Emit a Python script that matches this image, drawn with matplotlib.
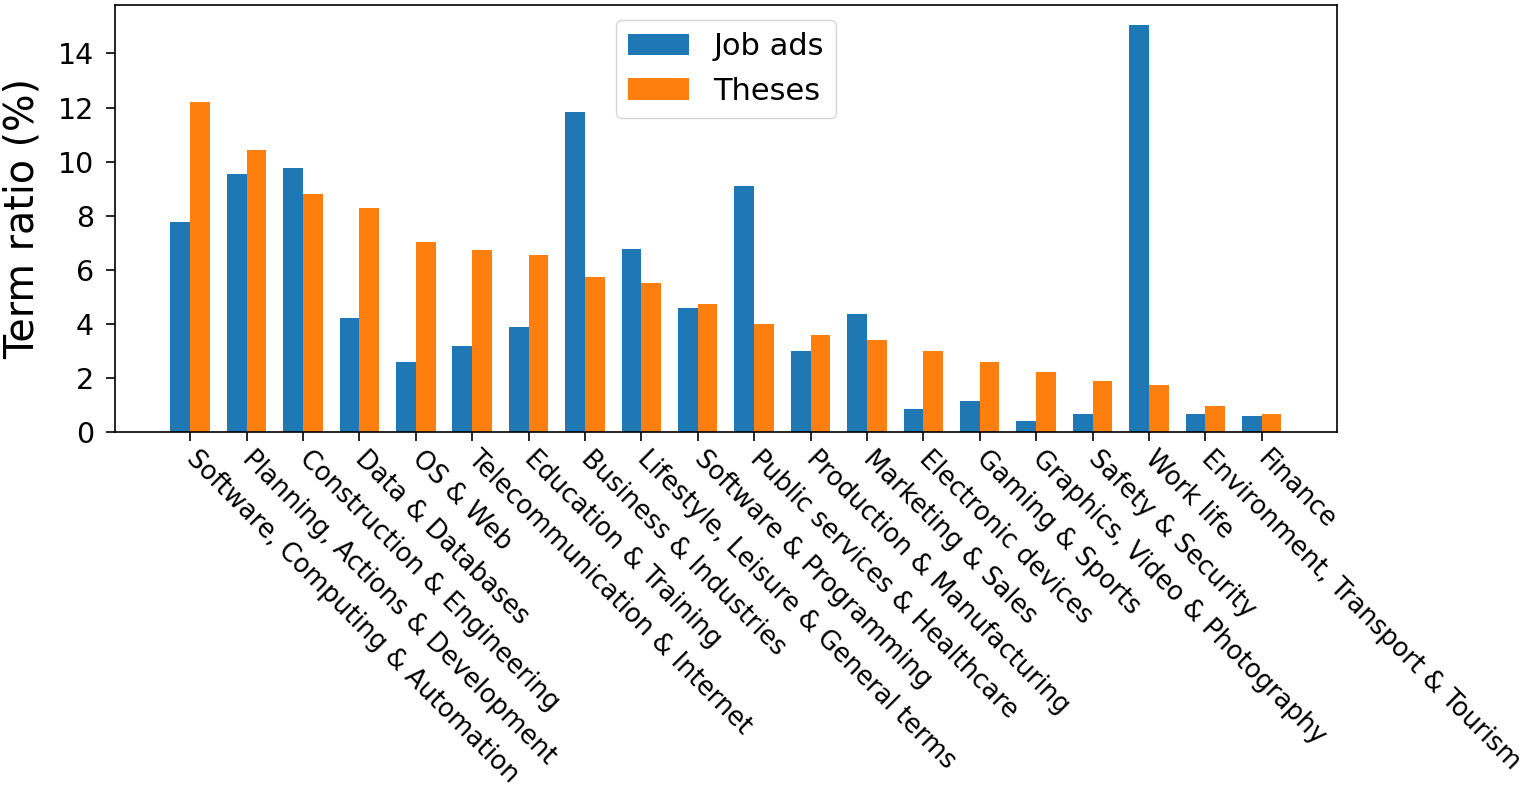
import matplotlib
matplotlib.use("Agg")
import matplotlib.pyplot as plt
import numpy as np

categories = [
    "Software, Computing & Automation",
    "Planning, Actions & Development",
    "Construction & Engineering",
    "Data & Databases",
    "OS & Web",
    "Telecommunication & Internet",
    "Education & Training",
    "Business & Industries",
    "Lifestyle, Leisure & General terms",
    "Software & Programming",
    "Public services & Healthcare",
    "Production & Manufacturing",
    "Marketing & Sales",
    "Electronic devices",
    "Gaming & Sports",
    "Graphics, Video & Photography",
    "Safety & Security",
    "Work life",
    "Environment, Transport & Tourism",
    "Finance",
]
job_ads = [7.77, 9.53, 9.75, 4.23, 2.58, 3.17, 3.89, 11.85, 6.77, 4.59,
           9.11, 3.01, 4.36, 0.86, 1.14, 0.41, 0.68, 15.04, 0.68, 0.59]
theses = [12.22, 10.44, 8.79, 8.28, 7.02, 6.73, 6.54, 5.74, 5.52, 4.74,
          3.99, 3.59, 3.41, 2.99, 2.58, 2.22, 1.90, 1.73, 0.95, 0.65]
yticks = [0, 2, 4, 6, 8, 10, 12, 14]

fig = plt.figure(figsize=(15.32, 7.92), dpi=100)
ax = fig.add_axes([0.075, 0.4545, 0.7977, 0.5392])

x = np.arange(len(categories))
w = 0.35
ax.bar(x - w / 2, job_ads, w, label="Job ads", color="#1f77b4")
ax.bar(x + w / 2, theses, w, label="Theses", color="#ff7f0e")

ax.set_xticks(x)
ax.set_xticklabels(categories, rotation=-45, ha="left", va="center",
                   rotation_mode="anchor", fontsize=18.5)
ax.set_yticks(yticks)
ax.tick_params(axis="y", labelsize=20.5, length=6.5, width=1.2, pad=8.6)
ax.tick_params(axis="x", length=6.5, width=1.2, pad=10)
ax.set_ylabel("Term ratio (%)", fontsize=28.5, labelpad=11)
for s in ax.spines.values():
    s.set_linewidth(1.2)
ax.legend(loc="upper center", fontsize=22)

fig.savefig("out.png", dpi=100)
